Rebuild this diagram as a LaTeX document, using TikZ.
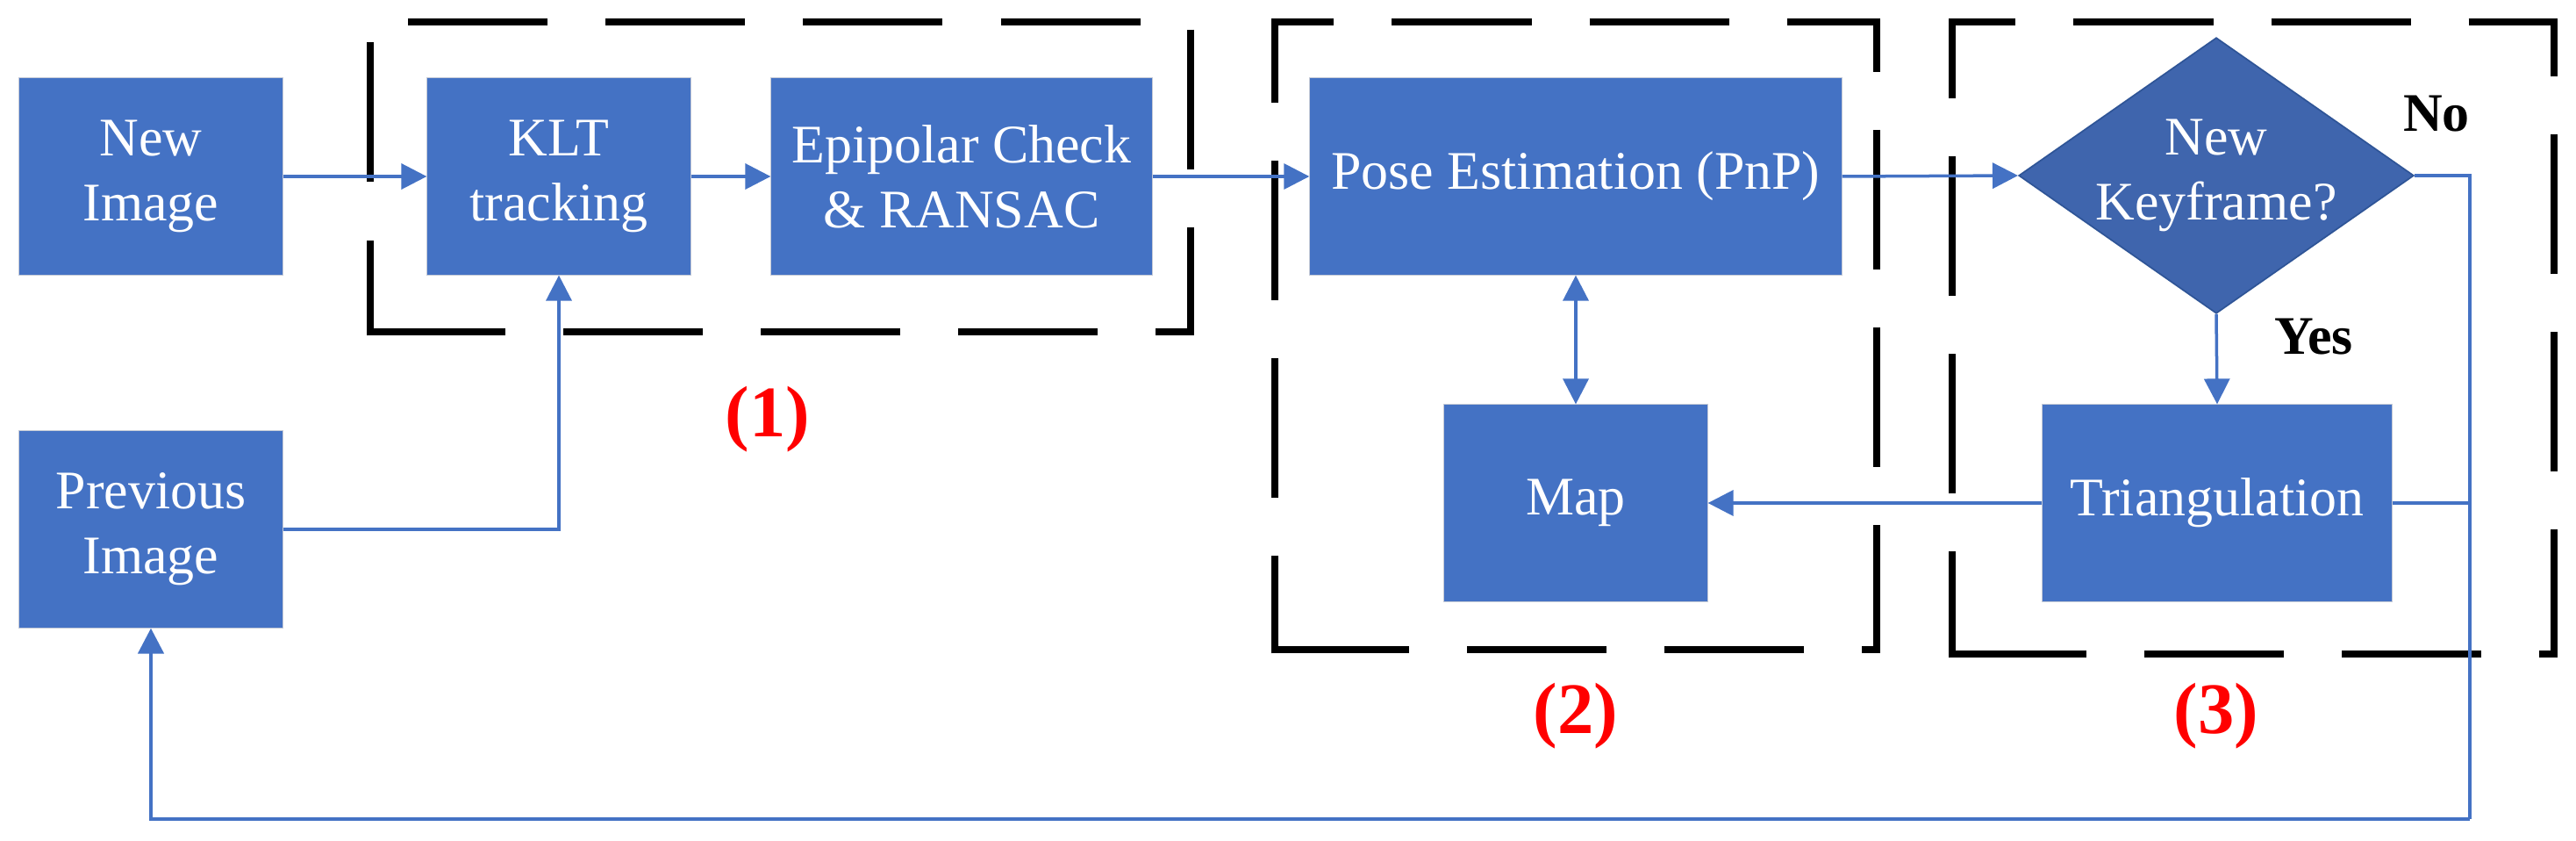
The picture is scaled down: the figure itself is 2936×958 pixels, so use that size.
\documentclass[tikz,border=0pt]{standalone}
\usepackage{fontspec}
\setmainfont{Liberation Serif}
\usetikzlibrary{arrows.meta,shapes.geometric}
\definecolor{boxblue}{HTML}{4472C4}
\definecolor{diablue}{HTML}{3F65AD}
\definecolor{diaedge}{HTML}{2F5597}
\definecolor{edgegray}{HTML}{C5CAD6}
\definecolor{lblred}{HTML}{FF0000}
\begin{document}
\begin{tikzpicture}[x=0.01cm,y=-0.01cm,
  blk/.style={rectangle, fill=boxblue, draw=edgegray, line width=0.3pt, text=white,
    inner sep=0pt, align=center, minimum height=2.24cm, font=\fontsize{17.6}{21}\selectfont},
  dia/.style={diamond, fill=diablue, draw=diaedge, line width=0.5pt, inner sep=0pt,
    minimum width=4.5cm, minimum height=3.14cm},
  diatxt/.style={text=white, align=center, inner sep=0pt, font=\fontsize{17.6}{21}\selectfont},
  dbox/.style={draw=black, line width=0.085cm, dash pattern=on 1.59cm off 0.66cm, line join=miter},
  dcorner/.style={draw=black, line width=0.085cm},
  conn/.style={draw=boxblue, line width=0.035cm},
  fb/.style={draw=boxblue, line width=0.045cm},
  tip/.style={-{Triangle[length=0.29cm,width=0.29cm]}},
  dtip/.style={{Triangle[length=0.29cm,width=0.29cm]}-{Triangle[length=0.29cm,width=0.29cm]}},
  yn/.style={text=black, inner sep=0pt, font=\fontsize{17.6}{21}\selectfont\bfseries},
  grp/.style={text=lblred, inner sep=0pt, font=\fontsize{23.5}{28}\selectfont\bfseries}
]
\useasboundingbox (0,0) rectangle (2936,958);

% dashed group frames (each starts at the beginning of a dash on its left side)
\draw[dbox] (422,207) -- (422,25) -- (1357,25) -- (1357,378) -- (422,378);
\draw[dcorner] (422,382.25) -- (422,274);
\draw[dbox] (1453,567) -- (1453,25) -- (2139,25) -- (2139,740) -- (1453,740);
\draw[dcorner] (1453,744.25) -- (1453,633);
\draw[dbox] (2225,562) -- (2225,25) -- (2911,25) -- (2911,745) -- (2225,745);
\draw[dcorner] (2225,749.25) -- (2225,628);

% blocks
\node[blk, minimum width=3cm] (newimg) at (172,201) {New\\Image};
\node[blk, minimum width=3cm] (klt) at (637,201) {KLT\\tracking};
\node[blk, minimum width=4.34cm] (epi) at (1096,201) {Epipolar Check\\\& RANSAC};
\node[blk, minimum width=6.06cm] (pose) at (1796,201) {Pose Estimation (PnP)};
\node[dia] (kf) at (2526,200) {};
\node[diatxt] (kftxt) at (kf.center) {New\\Keyframe?};
\node[blk, minimum width=3cm] (map) at (1796,573) {Map};
\node[blk, minimum width=3.98cm] (tri) at (2527,573) {Triangulation};
\node[blk, minimum width=3cm] (prev) at (172,603) {Previous\\Image};

% labels
\node[yn] (no) at (2777,130) {No};
\node[yn] (yes) at (2637,384) {Yes};
\node[grp] (g1) at (875,478) {(1)};
\node[grp] (g2) at (1796,816) {(2)};
\node[grp] (g3) at (2526,816) {(3)};

% helper coordinates
\coordinate (fbtop) at (2815,200);
\coordinate (fbmid) at (2815,573);
\coordinate (fbbot) at (2815,933);
\coordinate (fbleft) at (172,933);

% connectors
\draw[conn, tip] (newimg.east) -- (klt.west);
\draw[conn, tip] (klt.east) -- (epi.west);
\draw[conn, tip] (epi.east) -- (pose.west);
\draw[conn, tip] (pose.east) -- (kf.west);
\draw[conn, dtip] (pose.south) -- (map.north);
\draw[conn, tip] (kf.south) -- (tri.north);
\draw[conn, tip] (tri.west) -- (map.east);
\draw[conn, tip] (prev.east) -| (klt.south);
\draw[conn] (tri.east) -- (fbmid);
\draw[fb] (kf.east) -- (fbtop) -- (fbbot);
\draw[fb, tip] (fbbot) -- (fbleft) -- (prev.south);
\end{tikzpicture}
\end{document}
